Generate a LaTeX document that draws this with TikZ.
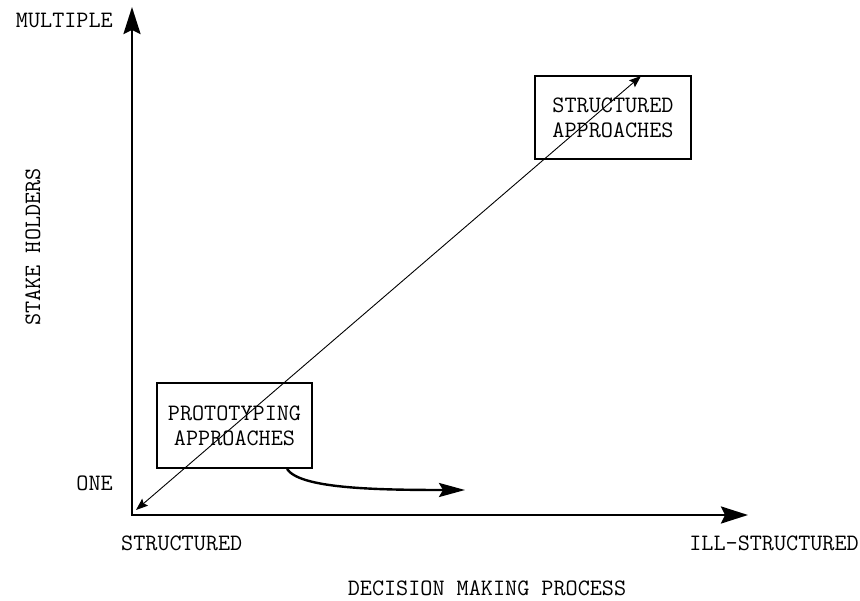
\documentclass[tikz,border=0pt]{standalone}
\usepackage{fontspec}
\usetikzlibrary{arrows.meta}
\tikzset{
  lbl/.style={inner sep=0pt,font=\fontsize{23.5}{25}\ttfamily},
  apbox/.style={draw,line width=1.2pt,inner sep=0pt,align=center,font=\fontsize{23.5}{25}\ttfamily},
  axis/.style={line width=2.6pt,{Stealth[length=27pt,width=17pt,inset=4pt]}-{Stealth[length=27pt,width=17pt,inset=4pt]}},
  diag/.style={line width=0.9pt,{Stealth[length=12pt,width=9pt,inset=2pt]}-{Stealth[length=12pt,width=9pt,inset=2pt]}},
  curvy/.style={line width=2.4pt,-{Stealth[length=26pt,width=14pt,inset=4pt]}}
}
\begin{document}
\begin{tikzpicture}[x=1pt,y=-1pt]
\useasboundingbox (0,0) rectangle (860,601);
% axes
\coordinate (o) at (132,515);\coordinate (ytip) at (132,7);\coordinate (xtip) at (748,515);
\draw[axis] (ytip)--(o)--(xtip);
\node[lbl,anchor=east] (multi) at (113,20){MULTIPLE};
\node[lbl,anchor=east] (one) at (113,483){ONE};
\node[lbl,anchor=west] (struct) at (121,543){STRUCTURED};
\node[lbl,anchor=east] (ill) at (859,543){ILL-STRUCTURED};
\node[lbl] (dmp) at (487,588){DECISION MAKING PROCESS};
\node[lbl,rotate=90] (stake) at (33,247){STAKE HOLDERS};
% boxes
\node[apbox,minimum width=156pt,minimum height=83pt] (sbox) at (613,117.5){STRUCTURED\\APPROACHES};
\node[apbox,minimum width=155pt,minimum height=85pt] (pbox) at (234.5,425.5){PROTOTYPING\\APPROACHES};
% connectors
\coordinate (dlow) at (136,510);\coordinate (dhigh) at (641,76);
\draw[diag] (dlow)--(dhigh);
\coordinate (cstart) at (287,469);\coordinate (cend) at (465,490);
\draw[curvy] (cstart) .. controls (300,488) and (370,490) .. (cend);
\end{tikzpicture}
\end{document}
